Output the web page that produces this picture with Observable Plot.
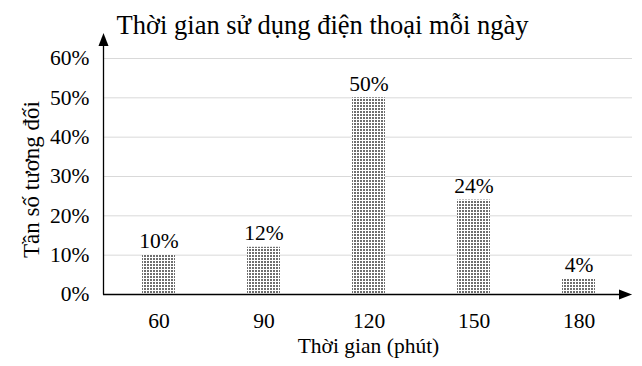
<!DOCTYPE html>
<html><head><meta charset="utf-8">
<script src="https://cdn.jsdelivr.net/npm/d3@7"></script>
<script src="https://cdn.jsdelivr.net/npm/@observablehq/plot@0.6"></script>
<style>body{margin:0;background:#fff}#chart{position:relative;width:642px;height:366px}
#chart svg text, #chart svg g{font-family:'Liberation Serif','Times New Roman',serif !important;font-variant:normal !important;}</style>
</head><body><div id="chart"></div>
<script>
const categories = [60, 90, 120, 150, 180];
const values = [0.10, 0.12, 0.50, 0.24, 0.04];
const labels = ["10%", "12%", "50%", "24%", "4%"];
const yTicks = [0, 0.1, 0.2, 0.3, 0.4, 0.5, 0.6];
const title = "Thời gian sử dụng điện thoại mỗi ngày";
const xTitle = "Thời gian (phút)";
const yTitle = "Tần số tương đối";

const data = categories.map((c, i) => ({c, v: values[i], label: labels[i]}));
const font = "'Liberation Serif', 'Times New Roman', serif";

const plot = Plot.plot({
  width: 642, height: 366,
  marginLeft: 104, marginRight: 10, marginTop: 58, marginBottom: 72,
  style: {fontFamily: font, fontSize: "21px", color: "#000", background: "#fff"},
  x: {type: "band", domain: categories, range: [104, 632], paddingInner: 0.69, paddingOuter: 0.345, label: null},
  y: {domain: [0, 0.6], label: null},
  marks: [
    Plot.gridY(yTicks, {stroke: "#d9d9d9", strokeOpacity: 1, strokeWidth: 1}),
    Plot.barY(data, {x: "c", y: "v", fill: "url(#dots)"}),
    Plot.text(data, {x: "c", y: "v", text: "label", dy: -7, lineAnchor: "bottom", fontSize: 21.5, fill: "#000"}),
    Plot.axisX({tickSize: 0, tickPadding: 18, fontSize: 21.5, fontVariant: "normal", tickFormat: d => String(d)}),
    Plot.axisY(yTicks, {tickSize: 0, tickPadding: 15, fontSize: 21.5, fontVariant: "normal", tickFormat: d => `${Math.round(d * 100)}%`, label: null}),
    Plot.text([xTitle], {frameAnchor: "bottom", dy: 58, fontSize: 21.5, fill: "#000"}),
    Plot.text([yTitle], {frameAnchor: "left", dx: -73, dy: 3, rotate: -90, textAnchor: "middle", fontSize: 23, fill: "#000"}),
    Plot.text([title], {frameAnchor: "top", dy: -43, dx: -46, fontSize: 26.5, fill: "#000"})
  ]
});

const svg = d3.select(plot);
const defs = svg.insert("defs", ":first-child");
const pat = defs.append("pattern").attr("id", "dots").attr("patternUnits", "userSpaceOnUse")
  .attr("width", 3).attr("height", 3);
pat.append("rect").attr("width", 3).attr("height", 3).attr("fill", "#6e6e6e");
pat.append("rect").attr("x", 2).attr("y", 0).attr("width", 1).attr("height", 3).attr("fill", "#ffffff");
pat.append("rect").attr("x", 0).attr("y", 2).attr("width", 3).attr("height", 1).attr("fill", "#ffffff");

// axis lines with arrowheads
const g = svg.append("g");
g.append("line").attr("x1", 103.5).attr("y1", 294.5).attr("x2", 103.5).attr("y2", 44).attr("stroke", "#000").attr("stroke-width", 1.3);
g.append("path").attr("d", "M103.5,33 L98.5,46 L108.5,46 Z").attr("fill", "#000");
g.append("line").attr("x1", 103).attr("y1", 294.5).attr("x2", 620).attr("y2", 294.5).attr("stroke", "#000").attr("stroke-width", 1.5);
g.append("path").attr("d", "M632,294.5 L619,289.5 L619,299.5 Z").attr("fill", "#000");

document.getElementById("chart").appendChild(plot);
</script></body></html>
